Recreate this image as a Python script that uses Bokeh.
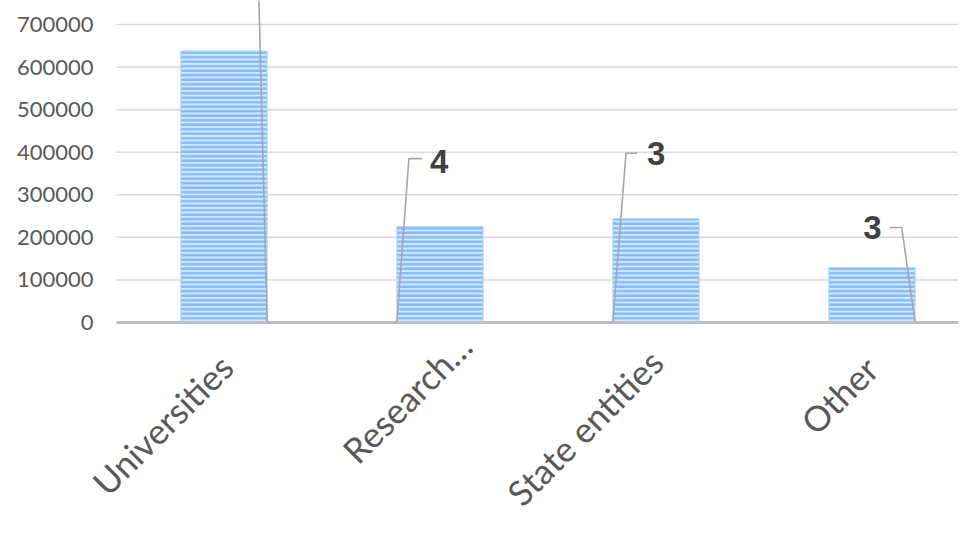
import math
from bokeh.plotting import figure
from bokeh.models import Range1d, ColumnDataSource
from bokeh.core.properties import value
from bokeh.embed import file_html
from bokeh.resources import INLINE

# ---- data ----
categories = ["Universities", "Research…", "State entities", "Other"]
values = [638000, 225500, 244000, 129000]
label_texts = ["", "4", "3", "3"]
y_ticks = [0, 100000, 200000, 300000, 400000, 500000, 600000, 700000]
y_tick_labels = ["0", "100000", "200000", "300000", "400000", "500000",
                 "600000", "700000"]

# ---- label layout (offsets from bar centre, in category units) ----
corner_dx = [0.2, -0.2, -0.2, 0.2]
elbow_dx = [0.16, -0.144, -0.139, 0.1375]
elbow_y = [790000, 385000, 397700, 223200]
end_dx = [0.16, -0.083, -0.088, 0.083]
text_dx = [0.16, -0.046, -0.042, 0.045]
text_y = [790000, 378200, 398000, 223200]
text_align = ["left", "left", "left", "right"]
# category label end offsets in px (right of tick, below axis)
cat_dx_px = [2, 25, 0, -1]
cat_dy_px = [38, 17, 33, 40]

W, H = 958, 517
ZERO_PX = 322          # pixel row of the value 0
Y_TOP = 756400         # value at the top edge
PX_PER_UNIT = ZERO_PX / Y_TOP
PX_PER_CAT = 216.0
FIRST_CAT_PX = 223.5
PLOT_LEFT_PX = 116
TICK_LABEL_RIGHT_PX = 93


def px_to_x(px):
    return (px - FIRST_CAT_PX) / PX_PER_CAT


x_left = px_to_x(0)
x_right = px_to_x(W)
plot_left = px_to_x(PLOT_LEFT_PX)

xs = list(range(len(categories)))

p = figure(width=W, height=H, output_backend="svg", toolbar_location=None,
           x_range=Range1d(x_left, x_right),
           y_range=Range1d(-(H - ZERO_PX) / PX_PER_UNIT, Y_TOP),
           min_border_left=0, min_border_right=0, min_border_top=0,
           min_border_bottom=0)
p.outline_line_color = None
p.background_fill_color = "white"
p.border_fill_color = "white"
p.xaxis.visible = False
p.yaxis.visible = False
p.xgrid.visible = False
p.ygrid.visible = False

# value gridlines
gy = y_ticks[1:]
p.segment(x0=[plot_left] * len(gy), y0=gy, x1=[x_right] * len(gy), y1=gy,
          line_color="#d9d9d9", line_width=1.5)

# value tick labels
p.text(x=[px_to_x(TICK_LABEL_RIGHT_PX)] * len(y_ticks), y=y_ticks,
       text=y_tick_labels, text_align="right", text_baseline="middle",
       text_font=value("Lato"), text_font_size="22px", text_color="#595959")

# bars
src = ColumnDataSource(dict(x=xs, top=values))
p.vbar(x="x", top="top", bottom=0, width=0.4, source=src, fill_color="#d3e7ff",
       hatch_pattern="horizontal_line", hatch_color="#86bdfc",
       hatch_scale=4.5, hatch_weight=2.6, line_color="#b9d8fb", line_width=1)

# category axis line
p.segment(x0=[plot_left], y0=[0], x1=[x_right], y1=[0],
          line_color="#bfbfbf", line_width=3)

# leader lines
for i in xs:
    lx = [i + corner_dx[i], i + elbow_dx[i], i + end_dx[i]]
    ly = [0, elbow_y[i], elbow_y[i]]
    p.line(lx, ly, line_color="#a6a6a6", line_width=1.6)

# data labels
lsrc = ColumnDataSource(dict(x=[i + text_dx[i] for i in xs], y=text_y,
                             t=label_texts, a=text_align))
p.text(x="x", y="y", text="t", source=lsrc, text_align="a",
       text_baseline="middle", text_font=value("Liberation Sans"),
       text_font_style="bold", text_font_size="33px", text_color="#404040")

# category labels (rotated 45 degrees)
csrc = ColumnDataSource(dict(
    x=[i + cat_dx_px[i] / PX_PER_CAT for i in xs],
    y=[-cat_dy_px[i] / PX_PER_UNIT for i in xs],
    t=categories))
p.text(x="x", y="y", text="t", source=csrc, angle=math.pi / 4,
       text_align="right", text_baseline="alphabetic",
       text_font=value("Lato"), text_font_size="35px", text_color="#595959")

open("out.html", "w").write(file_html(p, INLINE))
